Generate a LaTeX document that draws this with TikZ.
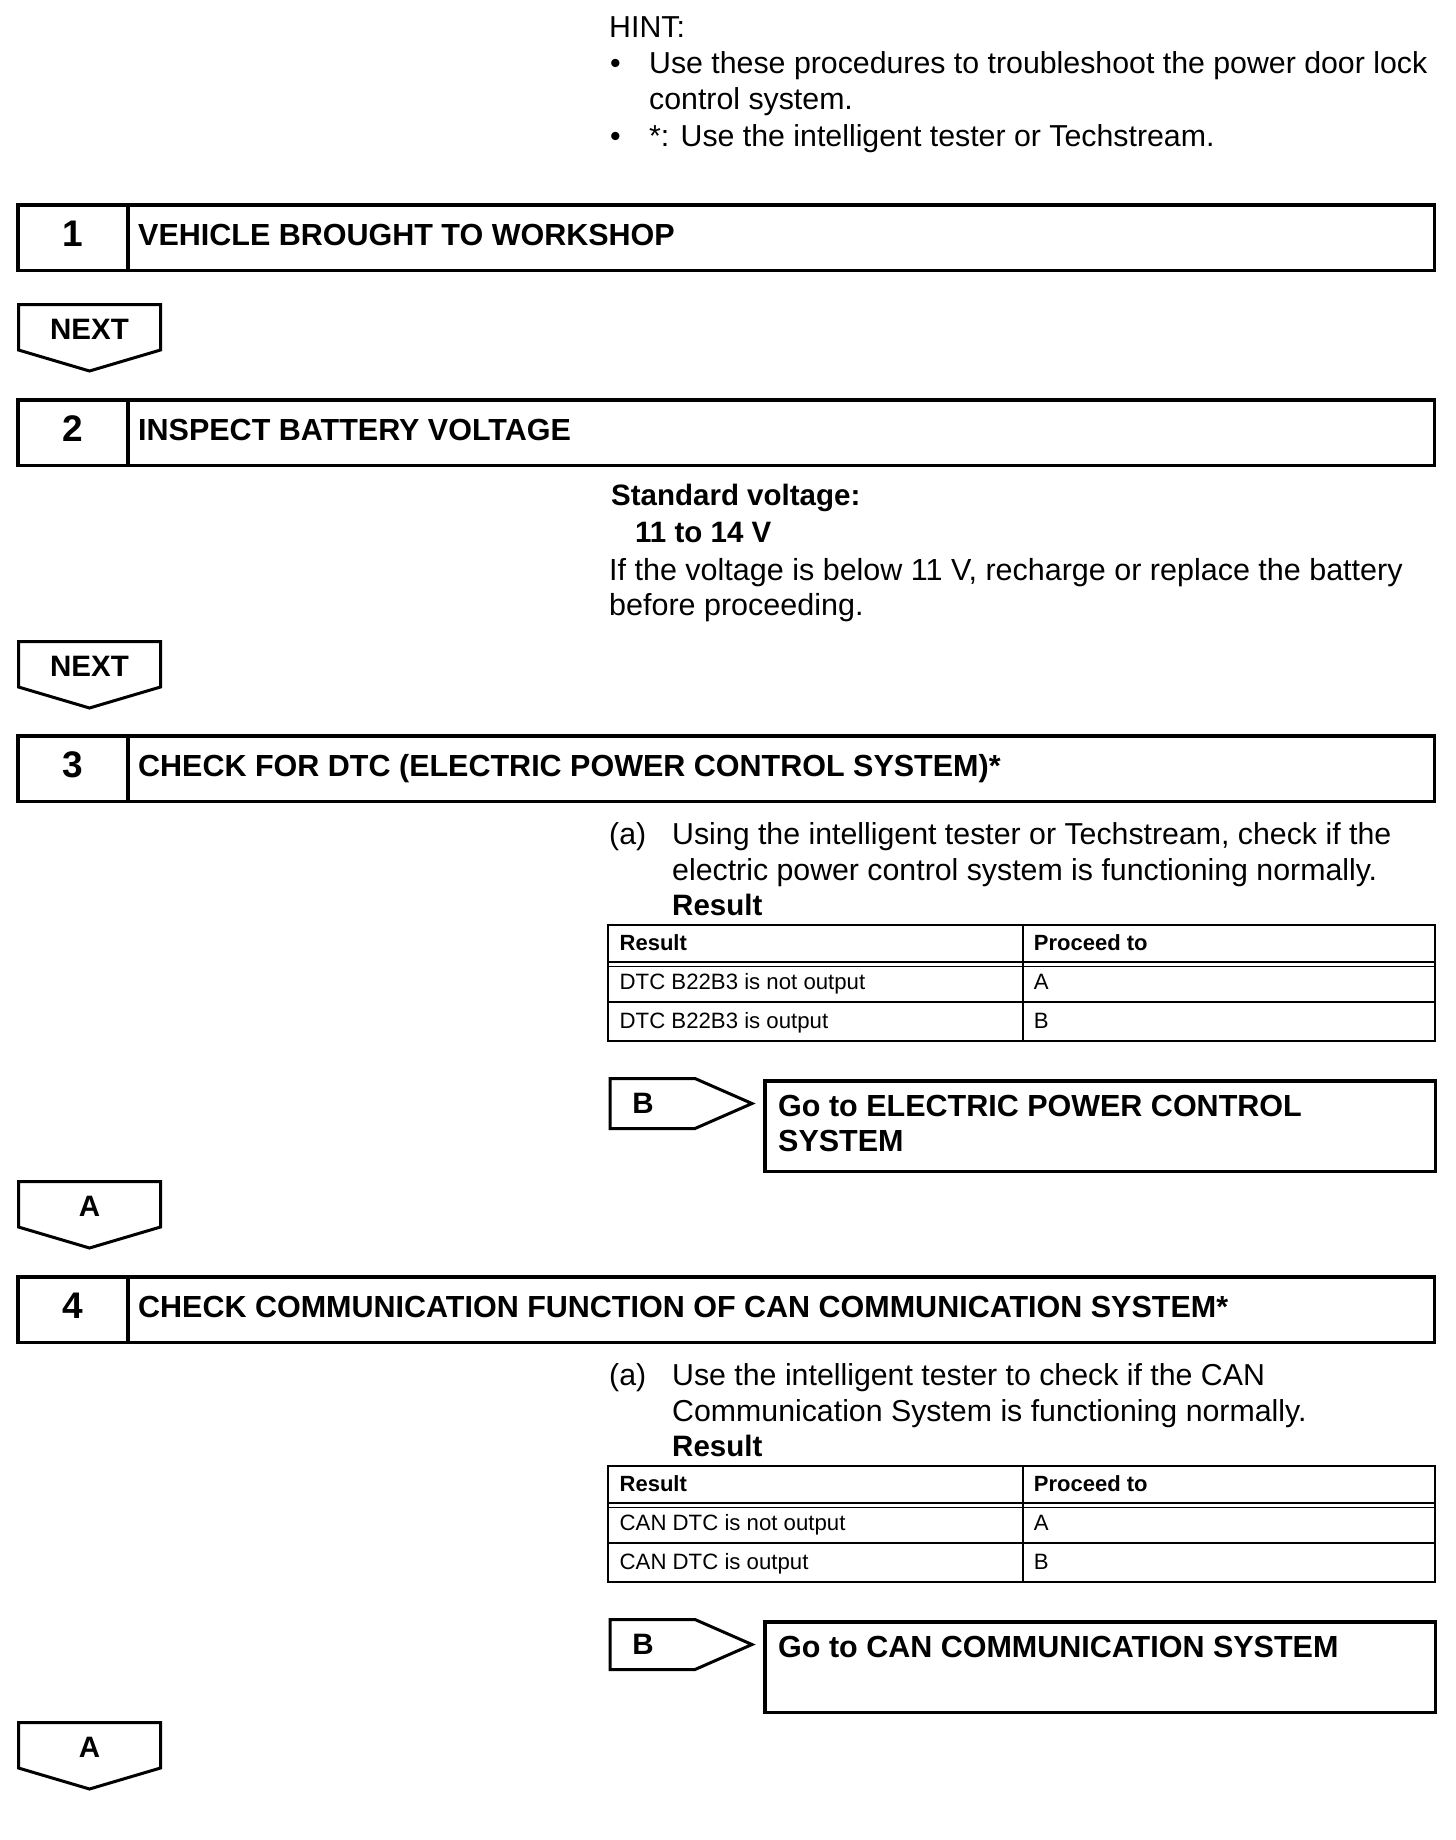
\documentclass[tikz,border=0pt]{standalone}
\usepackage{fontspec}
\setmainfont{Liberation Sans}
\newcommand\mkstep[4]{%
  \draw[frame] (17.75,#2+1.75) rectangle (1434.25,#2+67.25);
  \draw[frame] (128,#2+1.75) -- (128,#2+67.25);
  \node[numtext] (#1n) at (73,#2+43) {#3};
  \node[titletext] (#1t) at (138,#2+42) {#4};
}
\newcommand\mkdown[3]{%
  \draw[tagline] (18.5,#2+1.5) -- (160.5,#2+1.5) -- (160.5,#2+47) -- (89.5,#2+68) -- (18.5,#2+47) -- cycle;
  \node[tagtext,anchor=base] (#1) at (89.5,#2+36) {#3};
}
\newcommand\mkresult[6]{% name, top, line1, line2, row1, row2
  \node[body] (#1a) at (609,#2+110) {(a)};
  \node[body] (#1l1) at (672,#2+110) {#3};
  \node[body] (#1l2) at (672,#2+146) {#4};
  \node[bodybold] (#1res) at (672,#2+181) {Result};
  % table
  \draw[tabthick] (608,#2+190.6) rectangle (1435,#2+306.7);
  \draw[tabthin] (608,#2+228) -- (1435,#2+228);
  \draw[tabthin] (608,#2+232.5) -- (1435,#2+232.5);
  \draw[tabthin] (608,#2+268) -- (1435,#2+268);
  \draw[tabthin] (1023,#2+190.6) -- (1023,#2+306.7);
  \node[tabbold] (#1h1) at (619.5,#2+216) {Result};
  \node[tabbold] (#1h2) at (1033.7,#2+216) {Proceed to};
  \node[tabtext] (#1r1) at (619.5,#2+255) {#5};
  \node[tabtext] (#1r1p) at (1033.7,#2+255) {A};
  \node[tabtext] (#1r2) at (619.5,#2+294) {#6};
  \node[tabtext] (#1r2p) at (1033.7,#2+294) {B};
}
\begin{document}
\begin{tikzpicture}[x=1pt,y=-1pt,
  frame/.style={line width=3.5pt,line join=miter},
  tagline/.style={line width=3pt,line join=miter},
  tabthick/.style={line width=2pt},
  tabthin/.style={line width=1.5pt},
  body/.style={inner sep=0pt,anchor=base west,font=\fontsize{30.3}{36}\selectfont},
  bodybold/.style={body,font=\fontsize{29.5}{36}\selectfont\bfseries},
  titletext/.style={inner sep=0pt,anchor=base west,font=\fontsize{30.5}{36}\selectfont\bfseries},
  numtext/.style={inner sep=0pt,anchor=base,font=\fontsize{37}{40}\selectfont\bfseries},
  tagtext/.style={inner sep=0pt,font=\fontsize{29.5}{36}\selectfont\bfseries},
  tabtext/.style={inner sep=0pt,anchor=base west,font=\fontsize{22.2}{24}\selectfont},
  tabbold/.style={tabtext,font=\fontsize{22}{24}\selectfont\bfseries},
  ]
\useasboundingbox[fill=white] (0,0) rectangle (1456,1840);

% HINT
\node[body] (hint) at (609,37) {HINT:};
\node[body] (hb1) at (610,73.3) {\textbullet};
\node[body] (h1) at (649,73.3) {Use these procedures to troubleshoot the power door lock};
\node[body] (h2) at (649,109.5) {control system.};
\node[body] (hb2) at (610,146) {\textbullet};
\node[body] (h3) at (649,146) {*: Use the intelligent tester or Techstream.};

% Step 1
\mkstep{s1}{203}{1}{VEHICLE BROUGHT TO WORKSHOP}
\mkdown{next1}{303}{NEXT}

% Step 2
\mkstep{s2}{398}{2}{INSPECT BATTERY VOLTAGE}
\node[bodybold] (sv) at (611,505) {Standard voltage:};
\node[bodybold] (sv2) at (635,542) {11 to 14 V};
\node[body,font=\fontsize{30.5}{36}\selectfont] (sv3) at (609,580) {If the voltage is below 11 V, recharge or replace the battery};
\node[body,font=\fontsize{30.5}{36}\selectfont] (sv4) at (609,615) {before proceeding.};
\mkdown{next2}{640}{NEXT}

% Step 3
\mkstep{s3}{734}{3}{CHECK FOR DTC (ELECTRIC POWER CONTROL SYSTEM)*}
\mkresult{t3}{734}{Using the intelligent tester or Techstream, check if the}{electric power control system is functioning normally.}{DTC B22B3 is not output}{DTC B22B3 is output}
\draw[tagline] (610,1078.5) -- (695,1078.5) -- (752,1103.5) -- (695,1128.5) -- (610,1128.5) -- cycle;
\node[tagtext,anchor=base] (b3) at (643,1113) {B};
\draw[frame] (764.75,1080.75) rectangle (1435.25,1171.25);
\node[titletext] (g3a) at (778,1116) {Go to ELECTRIC POWER CONTROL};
\node[titletext] (g3b) at (778,1151) {SYSTEM};
\mkdown{a3}{1180}{A}

% Step 4
\mkstep{s4}{1275}{4}{CHECK COMMUNICATION FUNCTION OF CAN COMMUNICATION SYSTEM*}
\mkresult{t4}{1275}{Use the intelligent tester to check if the CAN}{Communication System is functioning normally.}{CAN DTC is not output}{CAN DTC is output}
\draw[tagline] (610,1619.5) -- (695,1619.5) -- (752,1644.5) -- (695,1669.5) -- (610,1669.5) -- cycle;
\node[tagtext,anchor=base] (b4) at (643,1654) {B};
\draw[frame] (764.75,1621.75) rectangle (1435.25,1712.25);
\node[titletext] (g4a) at (778,1657) {Go to CAN COMMUNICATION SYSTEM};
\mkdown{a4}{1721}{A}
\end{tikzpicture}
\end{document}
